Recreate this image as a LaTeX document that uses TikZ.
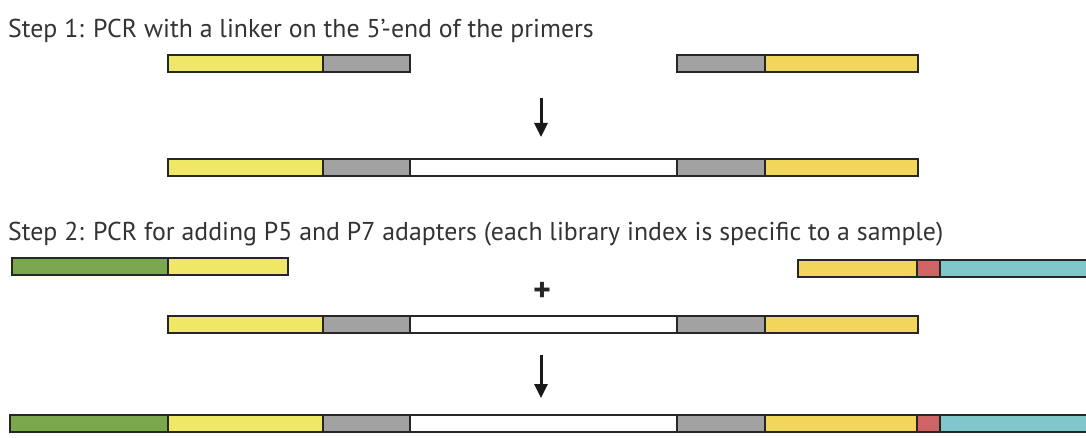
\documentclass[tikz,border=0pt]{standalone}
\usepackage{fontspec}
\setmainfont{PT Sans}
\usetikzlibrary{arrows.meta}
\definecolor{ylw}{HTML}{EEE866}
\definecolor{ylwb}{HTML}{F2D65C}
\definecolor{gry}{HTML}{A2A2A2}
\definecolor{grn}{HTML}{7BA84C}
\definecolor{redd}{HTML}{D06464}
\definecolor{cyn}{HTML}{80C6CA}
\newcommand\seg[6]{\node[seg,fill=#6,minimum width=#3pt-#2pt,minimum height=#5pt-#4pt,anchor=north west] (#1) at (#2,#4) {};}
\tikzset{
  seg/.style={draw=black!85,line width=2pt,inner sep=0pt,outer sep=0pt},
  label/.style={anchor=base west,inner sep=0pt,font=\fontsize{25.8}{28}\selectfont,text=black!80},
  flow/.style={line width=3pt,black!90,-{Triangle[width=13pt,length=14pt]}}
}
\begin{document}
\begin{tikzpicture}[x=1pt,y=-1pt]
\useasboundingbox (0,0) rectangle (1086,438);
\node[label] (t1) at (8,38) {Step 1: PCR with a linker on the 5'-end of the primers};
% row 1 primers
\seg{a1}{168}{323}{55}{72}{ylw}
\seg{a2}{323}{410}{55}{72}{gry}
\seg{b1}{677}{765}{55}{72}{gry}
\seg{b2}{765}{918}{55}{72}{ylwb}
% arrow 1
\coordinate (u1) at (541,98);
\coordinate (u2) at (541,137);
\draw[flow] (u1) -- (u2);
% row 2 product
\seg{c1}{168}{323}{159}{176}{ylw}
\seg{c2}{323}{410}{159}{176}{gry}
\seg{c3}{410}{677}{159}{176}{white}
\seg{c4}{677}{765}{159}{176}{gry}
\seg{c5}{765}{918}{159}{176}{ylwb}
\node[label] (t2) at (8,241) {Step 2: PCR for adding P5 and P7 adapters (each library index is specific to a sample)};
% row 3 adapters
\seg{d1}{12}{168}{258}{275}{grn}
\seg{d2}{168}{288}{258}{275}{ylw}
\seg{e1}{798}{917}{260}{277}{ylwb}
\seg{e2}{917}{940}{260}{277}{redd}
\seg{e3}{940}{1092}{260}{277}{cyn}
\node[font=\fontsize{34}{34}\selectfont\bfseries,text=black!85] (plus) at (542,292) {+};
% row 4 product
\seg{f1}{168}{323}{316}{333}{ylw}
\seg{f2}{323}{410}{316}{333}{gry}
\seg{f3}{410}{677}{316}{333}{white}
\seg{f4}{677}{765}{316}{333}{gry}
\seg{f5}{765}{918}{316}{333}{ylwb}
% arrow 2
\coordinate (v1) at (541,355);
\coordinate (v2) at (541,398);
\draw[flow] (v1) -- (v2);
% row 5 final
\seg{g1}{10}{168}{415}{432}{grn}
\seg{g2}{168}{323}{415}{432}{ylw}
\seg{g3}{323}{410}{415}{432}{gry}
\seg{g4}{410}{677}{415}{432}{white}
\seg{g5}{677}{765}{415}{432}{gry}
\seg{g6}{765}{917}{415}{432}{ylwb}
\seg{g7}{917}{940}{415}{432}{redd}
\seg{g8}{940}{1092}{415}{432}{cyn}
\end{tikzpicture}
\end{document}
